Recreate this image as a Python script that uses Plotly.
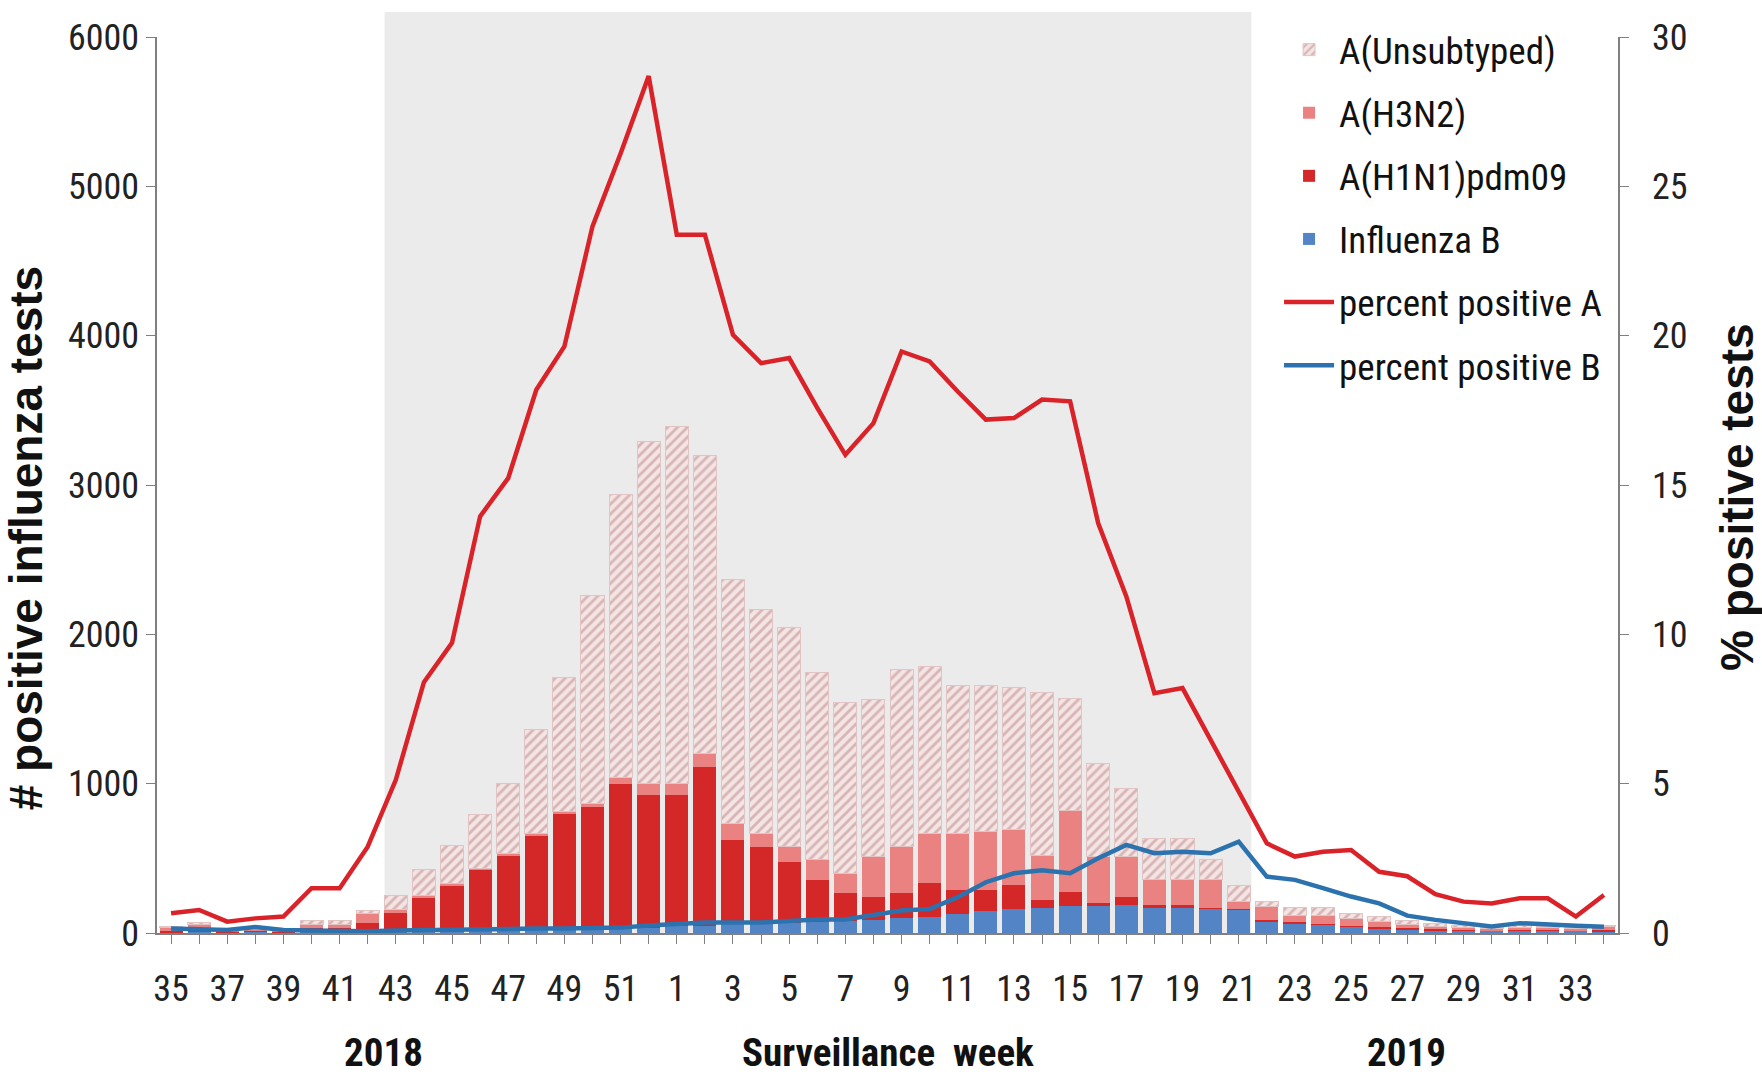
import plotly.graph_objects as go

weeks = [str(w) for w in list(range(35, 53)) + list(range(1, 35))]

flu_b = [5, 5, 5, 8, 6, 10, 10, 15, 15, 20, 20, 25, 25, 25, 30, 30, 30, 35,
         45, 50, 60, 65, 70, 75, 80, 85, 100, 110, 130, 145, 160, 170, 180, 180,
         190, 170, 170, 165, 155, 76, 65, 54, 44, 33, 25, 20, 18, 15, 20, 18, 15, 10]
a_h1n1 = [10, 15, 7, 7, 6, 25, 25, 55, 117, 212, 301, 397, 497, 631, 772, 816, 965, 889,
          879, 1064, 563, 513, 408, 280, 186, 158, 166, 227, 158, 143, 161, 50, 97, 20,
          53, 20, 20, 5, 5, 9, 10, 8, 6, 7, 7, 6, 4, 5, 5, 4, 3, 10]
a_h3n2 = [25, 40, 13, 10, 6, 20, 20, 60, 28, 18, 9, 8, 8, 9, 13, 24, 45, 79,
          79, 89, 112, 90, 100, 134, 134, 268, 312, 331, 380, 392, 369, 300, 543, 311,
          268, 165, 165, 185, 50, 91, 45, 58, 48, 36, 28, 19, 13, 10, 13, 13, 12, 25]
a_unsub = [2, 7, 5, 5, 2, 32, 32, 20, 94, 172, 259, 365, 472, 699, 894, 1389, 1897, 2287,
           2386, 1997, 1629, 1501, 1470, 1258, 1144, 1055, 1184, 1117, 989, 977, 952, 1091, 750, 621,
           454, 275, 275, 135, 105, 34, 48, 48, 34, 33, 27, 20, 13, 10, 12, 10, 10, 3]
pct_a = [0.66, 0.77, 0.38, 0.49, 0.55, 1.5, 1.5, 2.89, 5.13, 8.4, 9.72, 13.95, 15.23, 18.19, 19.64, 23.66, 26.1, 28.69,
         23.38, 23.38, 20.03, 19.08, 19.25, 17.58, 16.01, 17.07, 19.47, 19.14, 18.13, 17.19, 17.24, 17.86, 17.8, 13.72,
         11.27, 8.03, 8.2, 6.47, 4.68, 3.0, 2.56, 2.72, 2.78, 2.05, 1.9, 1.3, 1.05, 0.99, 1.16, 1.16, 0.55, 1.27]
pct_b = [0.15, 0.12, 0.1, 0.2, 0.1, 0.08, 0.06, 0.06, 0.08, 0.1, 0.12, 0.12, 0.14, 0.15, 0.15, 0.15, 0.18, 0.25,
         0.3, 0.35, 0.35, 0.35, 0.4, 0.45, 0.45, 0.6, 0.75, 0.8, 1.2, 1.7, 2.0, 2.1, 2.0, 2.5,
         2.95, 2.67, 2.72, 2.67, 3.06, 1.89, 1.78, 1.5, 1.22, 0.99, 0.58, 0.44, 0.33, 0.22, 0.33, 0.27, 0.24, 0.21]

tick_text = [w if i % 2 == 0 else "" for i, w in enumerate(weeks)]

NARROW = "Liberation Sans Narrow, Arial Narrow, Roboto Condensed, Liberation Sans, sans-serif"
BOLD = "Liberation Sans, Arial, sans-serif"

fig = go.Figure()

fig.add_trace(go.Bar(x=weeks, y=flu_b, name="Influenza B", legendgroup="g4", legendrank=4,
                     marker=dict(color="#5385C6", line=dict(width=0))))
fig.add_trace(go.Bar(x=weeks, y=a_h1n1, name="A(H1N1)pdm09", legendgroup="g3", legendrank=3,
                     marker=dict(color="#D42727", line=dict(width=0))))
fig.add_trace(go.Bar(x=weeks, y=a_h3n2, name="A(H3N2)", legendgroup="g2", legendrank=2,
                     marker=dict(color="#E98280", line=dict(width=0))))
fig.add_trace(go.Bar(x=weeks, y=a_unsub, name="A(Unsubtyped)", legendgroup="g1", legendrank=1,
                     marker=dict(color="#F4E4E4", line=dict(width=1, color="#E3C4C4"),
                                 pattern=dict(shape="/", fgcolor="#B98585", bgcolor="#F4E4E4",
                                              size=7, solidity=0.4))))
fig.add_trace(go.Scatter(x=weeks, y=pct_a, name="percent positive A", mode="lines",
                         legendgroup="g5", legendrank=5,
                         line=dict(color="#DA2229", width=4.5), yaxis="y2"))
fig.add_trace(go.Scatter(x=weeks, y=pct_b, name="percent positive B", mode="lines",
                         legendgroup="g6", legendrank=6,
                         line=dict(color="#2C72AE", width=4.5), yaxis="y2"))

fig.update_layout(
    width=1762, height=1082,
    margin=dict(l=157, r=144, t=37, b=149),
    paper_bgcolor="white", plot_bgcolor="white",
    barmode="stack", bargap=0.18,
    font=dict(family=NARROW, size=36, color="#222222"),
    xaxis=dict(type="category", categoryorder="array", categoryarray=weeks,
               tickmode="array", tickvals=weeks, ticktext=tick_text,
               range=[-0.5, len(weeks) - 0.5],
               ticks="outside", ticklen=9, tickcolor="#808080", tickwidth=1.2,
               showline=True, linecolor="#808080", linewidth=1.5,
               showgrid=False, zeroline=False, tickangle=0,
               tickfont=dict(family=NARROW, size=36, color="#222222"),
               ticklabelstandoff=14),
    yaxis=dict(range=[0, 6000], dtick=1000, tick0=0,
               ticks="outside", ticklen=9, tickcolor="#808080", tickwidth=1.2,
               showline=True, linecolor="#808080", linewidth=1.5,
               showgrid=False, zeroline=False,
               tickfont=dict(family=NARROW, size=36, color="#222222")),
    yaxis2=dict(range=[0, 30], dtick=5, tick0=0, overlaying="y", side="right",
                ticks="outside", ticklen=9, tickcolor="#808080", tickwidth=1.2,
                showline=True, linecolor="#808080", linewidth=1.5,
                showgrid=False, zeroline=False,
                tickfont=dict(family=NARROW, size=36, color="#222222"),
                ticklabelstandoff=16),
    legend=dict(x=0.768, y=1.02, xanchor="left", yanchor="top",
                traceorder="grouped", tracegroupgap=12,
                bgcolor="rgba(255,255,255,0)", borderwidth=0,
                font=dict(family=NARROW, size=37, color="#111111"),
                itemwidth=50),
    shapes=[dict(type="rect", xref="x", yref="paper", x0=7.6, x1=38.45, y0=0, y1=1.028,
                 fillcolor="#EBEBEB", line=dict(width=0), layer="below")],
    annotations=[
        dict(text="<b># positive influenza tests</b>", xref="paper", yref="paper", x=-0.09, y=0.44,
             textangle=-90, showarrow=False, xanchor="center", yanchor="middle",
             font=dict(family=BOLD, size=46, color="#111111")),
        dict(text="<b>% positive tests</b>", xref="paper", yref="paper", x=1.081, y=0.487,
             textangle=-90, showarrow=False, xanchor="center", yanchor="middle",
             font=dict(family=BOLD, size=46, color="#111111")),
        dict(text="<b>Surveillance  week</b>", xref="paper", yref="paper", x=0.5, y=-0.134,
             showarrow=False, xanchor="center", yanchor="middle",
             font=dict(family=NARROW, size=39, color="#111111")),
        dict(text="<b>2018</b>", xref="paper", yref="paper", x=0.155, y=-0.134,
             showarrow=False, xanchor="center", yanchor="middle",
             font=dict(family=NARROW, size=39, color="#111111")),
        dict(text="<b>2019</b>", xref="paper", yref="paper", x=0.855, y=-0.134,
             showarrow=False, xanchor="center", yanchor="middle",
             font=dict(family=NARROW, size=39, color="#111111")),
    ],
)

fig.write_html("out.html", config={"displayModeBar": False},
               post_script="document.body.style.margin='0';document.body.style.overflow='hidden';")
